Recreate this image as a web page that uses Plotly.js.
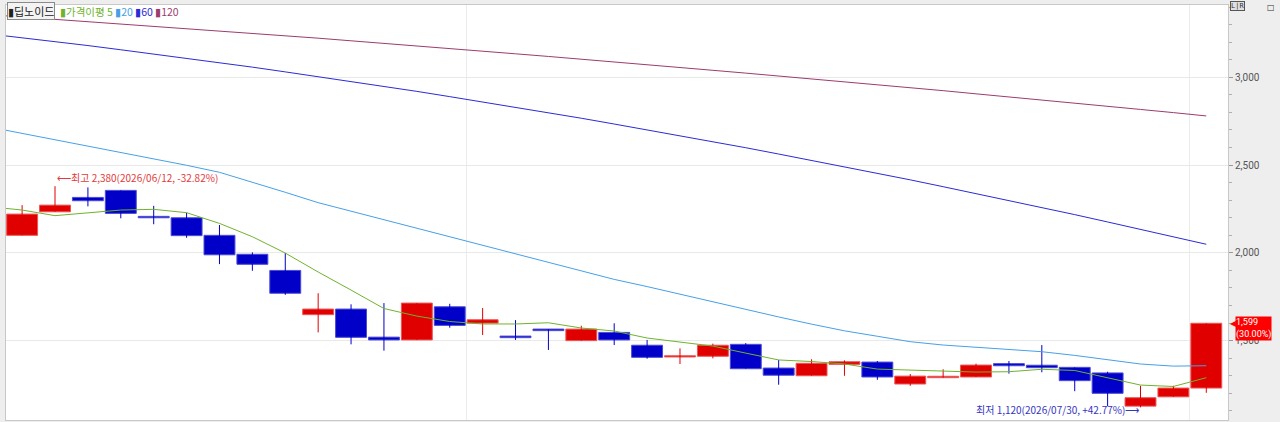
<!DOCTYPE html>
<html>
<head>
<meta charset="utf-8">
<script src="https://cdn.plot.ly/plotly-3.0.1.min.js"></script>
<style>
html,body{margin:0;padding:0;background:#ffffff;}
#chart{width:1280px;height:422px;}
</style>
</head>
<body>
<div id="chart"></div>
<script>
// ---- data (daily candles) ----
const stockName = '딥노이드';
const dates = ['2026-06-11','2026-06-12','2026-06-15','2026-06-16','2026-06-17','2026-06-18','2026-06-19',
  '2026-06-22','2026-06-23','2026-06-24','2026-06-25','2026-06-26','2026-06-29','2026-06-30',
  '2026-07-01','2026-07-02','2026-07-03','2026-07-06','2026-07-07','2026-07-08','2026-07-09','2026-07-10',
  '2026-07-13','2026-07-14','2026-07-15','2026-07-16','2026-07-20','2026-07-21','2026-07-22','2026-07-23',
  '2026-07-24','2026-07-27','2026-07-28','2026-07-29','2026-07-30','2026-07-31','2026-08-03'];
const open  = [2100,2234,2316,2356,2208,2200,2100,1992,1900,1648,1680,1520,1504,1693,
  1600,1526,1566,1500,1547,1474,1407,1411,1479,1344,1300,1365,1378,1253,1289,1293,1369,1360,1348,1316,1127,1180,1230];
const high  = [2272,2380,2373,2356,2268,2229,2159,2003,1999,1770,1707,1714,1714,1710,
  1686,1617,1566,1585,1599,1504,1456,1483,1486,1390,1394,1388,1384,1310,1337,1369,1384,1475,1348,1323,1243,1243,1599];
const low   = [2100,2234,2265,2197,2163,2086,1936,1898,1761,1547,1479,1443,1504,1574,
  1532,1504,1447,1500,1475,1397,1367,1399,1340,1249,1300,1300,1277,1243,1289,1293,1312,1320,1212,1127,1120,1180,1203];
const close = [2221,2272,2297,2225,2200,2098,1989,1935,1770,1680,1519,1504,1714,1587,
  1619,1517,1557,1566,1504,1405,1414,1474,1340,1303,1371,1380,1293,1298,1297,1361,1357,1346,1272,1200,1175,1230,1599];

// moving averages (first value belongs to the session before the first visible candle)
const maDates = ['2026-06-10'].concat(dates);
const ma5   = [2263,2244,2212,2229,2244,2248,2229,2168,2092,1999,1891,1788,1683,1640,1609,
  1595,1595,1602,1572,1555,1515,1492,1469,1429,1390,1381,1367,1338,1333,1327,1321,1323,1337,1330,1287,1247,1239,1289];
const ma20  = [2717,2681,2645,2608,2572,2536,2499,2459,2404,2345,2286,2237,2189,2141,2093,
  2044,1996,1947,1898,1849,1808,1764,1721,1678,1635,1594,1556,1525,1494,1475,1462,1452,1437,1416,1392,1367,1355,1357];
const ma60  = [3247,3226,3204,3181,3157,3133,3109,3084,3058,3031,3004,2977,2948,2920,2890,
  2860,2830,2798,2767,2734,2701,2668,2633,2599,2563,2527,2491,2453,2416,2377,2338,2299,2258,2218,2176,2134,2092,2049];
const ma120 = [3357,3344,3331,3318,3305,3292,3278,3265,3251,3237,3223,3208,3194,3179,3165,
  3150,3134,3119,3104,3088,3072,3057,3040,3024,3008,2991,2975,2958,2941,2924,2906,2889,2871,2853,2835,2817,2799,2780];
const maLabels = ['5','20','60','120'];
const yTickStep = 500;

// ---- styles ----
const UP = '#e00000', DOWN = '#0000c8';
const MA_COLORS = ['#6fb32c','#46a0e8','#2b2bd6','#9c3c6c'];

const xs = dates.map((d,i)=>i);
const maX = maDates.map((d,i)=>i-1);
const isUp = close.map((c,i)=>c>=open[i]);

function wickTrace(up){
  const x=[], y=[];
  xs.forEach(i=>{ if(isUp[i]===up){ x.push(i,i,null); y.push(low[i],high[i],null);} });
  return {type:'scatter',mode:'lines',x:x,y:y,line:{color:up?UP:DOWN,width:1},hoverinfo:'skip',showlegend:false};
}
const bodies = {
  type:'bar', x:xs,
  base: xs.map(i=>Math.min(open[i],close[i])),
  y: xs.map(i=>Math.abs(close[i]-open[i])),
  width:0.94,
  marker:{color:xs.map(i=>isUp[i]?UP:DOWN), line:{color:xs.map(i=>isUp[i]?'#ee5555':'#4b4bd8'),width:1}},
  hoverinfo:'skip', showlegend:false
};
const maSeries=[ma5,ma20,ma60,ma120];
const maTraces = maSeries.map((s,k)=>({type:'scatter',mode:'lines',x:maX,y:s,
  line:{color:MA_COLORS[k],width:1},hoverinfo:'skip',showlegend:false}));

// month separators
const monthBreaks=[];
for(let i=1;i<dates.length;i++){ if(dates[i].slice(5,7)!==dates[i-1].slice(5,7)) monthBreaks.push(i-0.5); }

const fmt = v=>v.toLocaleString('en-US');
const hiIdx = high.indexOf(Math.max(...high));
const loIdx = low.indexOf(Math.min(...low));
const last = close.length-1;
const hiPct = (close[last]/high[hiIdx]-1)*100;
const loPct = (close[last]/low[loIdx]-1)*100;
const dayPct = (close[last]/close[last-1]-1)*100;
const sd = d=>d.replace(/-/g,'/');

const KFONT = '"Noto Sans CJK KR", "Noto Sans", sans-serif';

const legendHtml = '<span style="color:'+MA_COLORS[0]+'">▮가격이평 '+maLabels[0]+'</span> '+
  '<span style="color:'+MA_COLORS[1]+'">▮'+maLabels[1]+'</span> '+
  '<span style="color:'+MA_COLORS[2]+'">▮'+maLabels[2]+'</span> '+
  '<span style="color:'+MA_COLORS[3]+'">▮'+maLabels[3]+'</span>';

const annotations = [
  {xref:'paper',yref:'paper',x:0,y:1,xanchor:'left',yanchor:'top',xshift:1,yshift:3,showarrow:false,
   text:'▮'+stockName,font:{family:KFONT,size:11,color:'#222'},bgcolor:'#f3f3f3',bordercolor:'#8a8a8a',borderwidth:1,borderpad:0},
  {xref:'paper',yref:'paper',x:0,y:1,xanchor:'left',yanchor:'top',xshift:52,yshift:3,showarrow:false,
   text:legendHtml,font:{family:KFONT,size:10.5,color:'#333'}},
  {x:hiIdx,y:high[hiIdx],xanchor:'left',yanchor:'bottom',xshift:0,yshift:-1,showarrow:false,
   text:'⟵최고 '+fmt(high[hiIdx])+'('+sd(dates[hiIdx])+', '+hiPct.toFixed(2)+'%)',
   font:{family:KFONT,size:10,color:'#e23a3a'}},
  {x:loIdx,y:low[loIdx],xanchor:'right',yanchor:'middle',xshift:0,yshift:-2,showarrow:false,
   text:'최저 '+fmt(low[loIdx])+'('+sd(dates[loIdx])+', +'+loPct.toFixed(2)+'%)⟶',
   font:{family:KFONT,size:10,color:'#3535c0'}},
  {xref:'paper',x:1,y:close[last],xanchor:'left',yanchor:'top',xshift:7,yshift:7,showarrow:false,align:'left',
   text:fmt(close[last])+'<br>('+dayPct.toFixed(2)+'%)',bgcolor:'#ff0000',borderpad:0,
   font:{family:'Roboto, sans-serif',size:9,color:'#ffffff'}},
  {xref:'paper',x:1,y:close[last],xanchor:'left',yanchor:'middle',xshift:0,showarrow:false,
   text:'◀',font:{family:'DejaVu Sans',size:8,color:'#ff0000'}},
  {xref:'paper',yref:'paper',x:1,y:1,xanchor:'left',yanchor:'top',xshift:2,yshift:4,showarrow:false,
   text:'L|R',font:{family:'DejaVu Sans Mono',size:7,color:'#333'},bordercolor:'#555',borderwidth:1,borderpad:0,bgcolor:'#e0e0e0'},
  {xref:'paper',yref:'paper',x:1,y:1,xanchor:'right',yanchor:'top',xshift:49,yshift:4,showarrow:false,
   text:'□',font:{family:'DejaVu Sans',size:8,color:'#333'}}
];

const layout = {
  width:1280,height:422,
  margin:{l:6,r:52,t:5,b:2,pad:0},
  paper_bgcolor:'#eeeeee',plot_bgcolor:'#ffffff',
  showlegend:false,bargap:0,
  xaxis:{range:[-0.49,36.66],tickmode:'array',tickvals:monthBreaks,showticklabels:false,ticks:'',
    showgrid:true,gridcolor:'#ececec',gridwidth:1,zeroline:false,showline:true,mirror:true,linecolor:'#c8c8c8',fixedrange:true},
  yaxis:{side:'right',range:[1048,3412],dtick:yTickStep,tick0:0,tickformat:',d',showgrid:true,gridcolor:'#e9e9e9',
    ticks:'outside',ticklen:4,tickcolor:'#9a9a9a',zeroline:false,showline:true,mirror:true,linecolor:'#c8c8c8',
    minor:{dtick:100,ticks:'outside',ticklen:3,tickcolor:'#b0b0b0',showgrid:false},
    tickfont:{family:'Roboto, sans-serif',size:10,color:'#555'},fixedrange:true},
  annotations:annotations
};

Plotly.newPlot('chart',[wickTrace(true),wickTrace(false),bodies].concat(maTraces),layout,{staticPlot:true,displayModeBar:false});
</script>
</body>
</html>
